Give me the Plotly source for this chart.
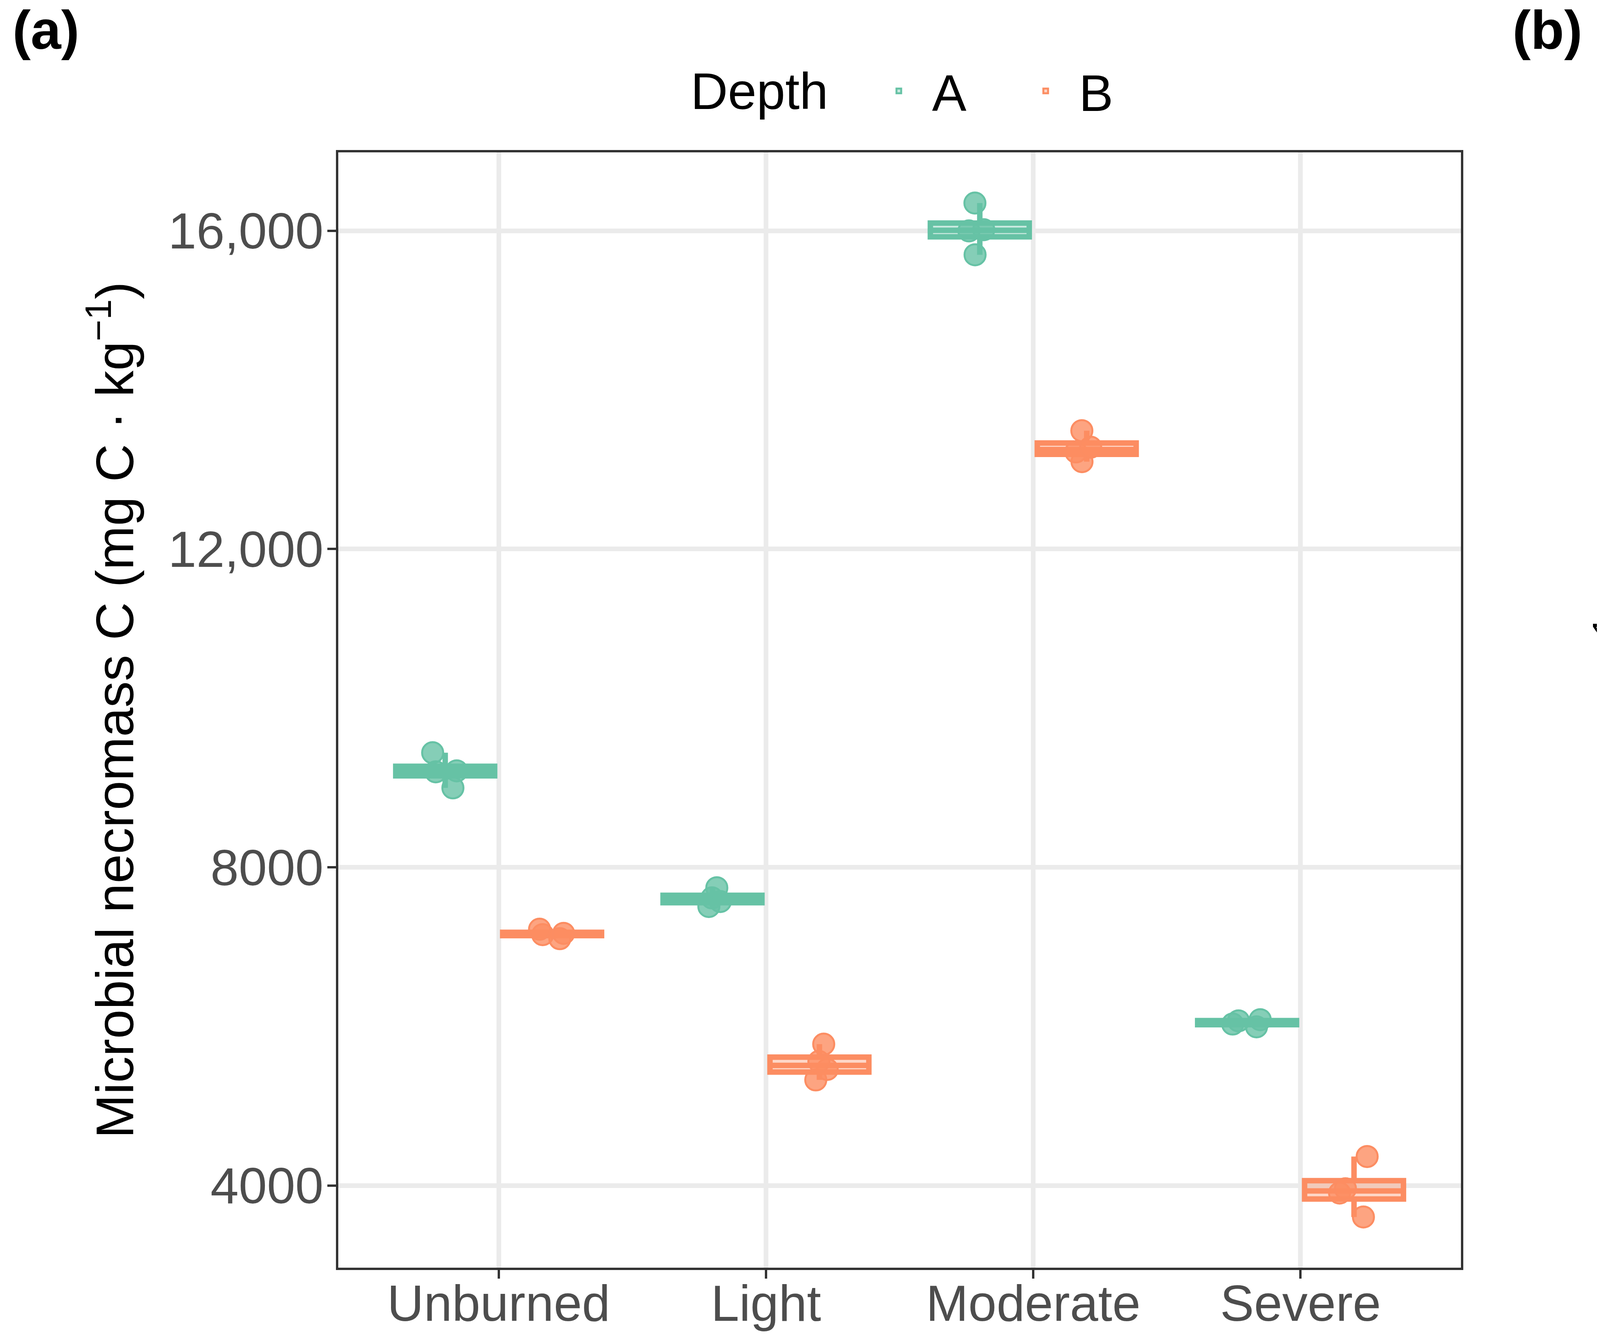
import numpy as np
import plotly.graph_objects as go
from plotly.subplots import make_subplots

# burn severity classes and soil depths
categories = ["Unburned", "Light", "Moderate", "Severe"]
depths = ["A", "B"]
colors = {"A": "#66C2A5", "B": "#FC8D62"}
fills = {"A": "rgba(102,194,165,0.35)", "B": "rgba(252,141,98,0.35)"}
pt_fill = {"A": "rgba(102,194,165,0.8)", "B": "rgba(252,141,98,0.8)"}

# (a) microbial necromass C per sample (mg C kg-1), 4 samples per class
mnc_A = [[9440, 9212, 9200, 8998], [7743, 7616, 7570, 7507], [16348, 16013, 15998, 15698], [6085, 6070, 6030, 5995]]
mnc_B = [[7222, 7170, 7154, 7103], [5777, 5560, 5460, 5328], [13487, 13280, 13220, 13098], [4365, 3960, 3906, 3605]]

# (b) estimated marginal means, back-transformed, with lower/upper limits
emm_A = [9218, 7615, 16016, 6060]
emm_A_upper = [9528, 7857, 16530, 6253]
emm_A_lower = [8919, 7374, 15510, 5862]
emm_B = [7171, 5548, 13265, 3946]
emm_B_upper = [7403, 5731, 13696, 4070]
emm_B_lower = [6949, 5355, 12848, 3824]

tick_vals = [4000, 8000, 12000, 16000]
tick_text = ["4000", "8000", "12,000", "16,000"]

FONT = "Liberation Sans"
W, H = 7617, 3409  # page body has an 8px margin


def fx(px):
    return (px - 8) / W


def fy(py):
    return 1 - (py - 8) / H


fig = make_subplots(rows=1, cols=2)

# panel a: boxplots (ggplot-style quartiles) with the raw points on top
for d, data in zip(depths, [mnc_A, mnc_B]):
    q1 = [float(np.percentile(v, 25)) for v in data]
    med = [float(np.percentile(v, 50)) for v in data]
    q3 = [float(np.percentile(v, 75)) for v in data]
    lo = [min(v) for v in data]
    hi = [max(v) for v in data]
    fig.add_trace(go.Box(x=categories, q1=q1, median=med, q3=q3, lowerfence=lo, upperfence=hi,
                         name=d, legendgroup="a" + d, legend="legend", offsetgroup=d,
                         whiskerwidth=0, fillcolor=fills[d], boxpoints=False,
                         line=dict(color=colors[d], width=14)),
                  row=1, col=1)
    xs = []
    ys = []
    for cat, vals in zip(categories, data):
        for v in vals:
            xs.append(cat)
            ys.append(v)
    fig.add_trace(go.Box(x=xs, y=ys, name=d, legendgroup="a" + d, showlegend=False, offsetgroup=d,
                         boxpoints="all", jitter=0.3, pointpos=0, whiskerwidth=0,
                         fillcolor="rgba(0,0,0,0)", line=dict(color="rgba(0,0,0,0)", width=0),
                         marker=dict(color=pt_fill[d], size=54,
                                     line=dict(color=colors[d], width=5))),
                  row=1, col=1)

# panel b: EMMs with error bars
for d, m, up, lo in [("A", emm_A, emm_A_upper, emm_A_lower), ("B", emm_B, emm_B_upper, emm_B_lower)]:
    fig.add_trace(go.Scatter(x=categories, y=m, name=d, legendgroup="b" + d, legend="legend2",
                             mode="lines+markers",
                             line=dict(color=colors[d], width=12),
                             marker=dict(color=colors[d], size=52),
                             error_y=dict(type="data", symmetric=False,
                                          array=[u - v for u, v in zip(up, m)],
                                          arrayminus=[v - l for v, l in zip(m, lo)],
                                          color=colors[d], thickness=12, width=25)),
                  row=1, col=2)

axis_style = dict(showgrid=True, gridcolor="#EBEBEB", gridwidth=12, zeroline=False,
                  showline=True, mirror=True, linecolor="#333333", linewidth=6,
                  ticks="outside", ticklen=22, tickwidth=6, tickcolor="#333333",
                  tickfont=dict(family=FONT, size=130, color="#4D4D4D"))

fig.update_xaxes(axis_style)
fig.update_yaxes(axis_style)
fig.update_xaxes(type="category", range=[-0.6, 3.6], categoryorder="array",
                 categoryarray=categories, ticklabelstandoff=-48)
fig.update_yaxes(tickvals=tick_vals, ticktext=tick_text, ticklabelstandoff=-16)

title_font = dict(family=FONT, size=135, color="black")
fig.update_layout(
    xaxis=dict(domain=[fx(866), fx(3740)]),
    xaxis2=dict(domain=[fx(4725), fx(7598)]),
    yaxis=dict(domain=[fy(3245), fy(390)], range=[2968, 16985],
               title=dict(text="Microbial necromass C (mg C · kg<sup>−1</sup>)", standoff=45,
                          font=title_font)),
    yaxis2=dict(domain=[fy(3245), fy(390)], range=[3200, 17165],
                title=dict(text="EMMs of MNC (mg C · kg<sup>−1</sup>, back-transformed)", standoff=45,
                           font=title_font)),
)

legend_style = dict(orientation="h", xanchor="left", yanchor="middle", y=fy(233),
                    bgcolor="rgba(0,0,0,0)", entrywidthmode="pixels",
                    font=dict(family=FONT, size=132, color="black"))
fig.update_layout(
    legend=dict(legend_style, x=fx(2216), itemwidth=160, entrywidth=201),
    legend2=dict(legend_style, x=fx(6380), itemwidth=100, entrywidth=156),
)

fig.update_layout(
    boxmode="group", boxgap=0.2, boxgroupgap=0.075,
    scattermode="group", scattergap=0.75,
    width=W, height=H, autosize=False,
    margin=dict(l=0, r=0, t=0, b=0),
    plot_bgcolor="white", paper_bgcolor="white",
    font=dict(family=FONT),
    annotations=[
        dict(text="Depth", x=fx(1766), y=fy(233), xref="paper", yref="paper",
             xanchor="left", yanchor="middle", showarrow=False,
             font=dict(family=FONT, size=132, color="black")),
        dict(text="Depth", x=fx(5980), y=fy(233), xref="paper", yref="paper",
             xanchor="left", yanchor="middle", showarrow=False,
             font=dict(family=FONT, size=132, color="black")),
        dict(text="<b>(a)</b>", x=fx(30), y=fy(-4), xref="paper", yref="paper",
             xanchor="left", yanchor="top", showarrow=False,
             font=dict(family=FONT, size=140, color="black")),
        dict(text="<b>(b)</b>", x=fx(3870), y=fy(-4), xref="paper", yref="paper",
             xanchor="left", yanchor="top", showarrow=False,
             font=dict(family=FONT, size=140, color="black")),
    ],
)

fig.write_html("out.html")
